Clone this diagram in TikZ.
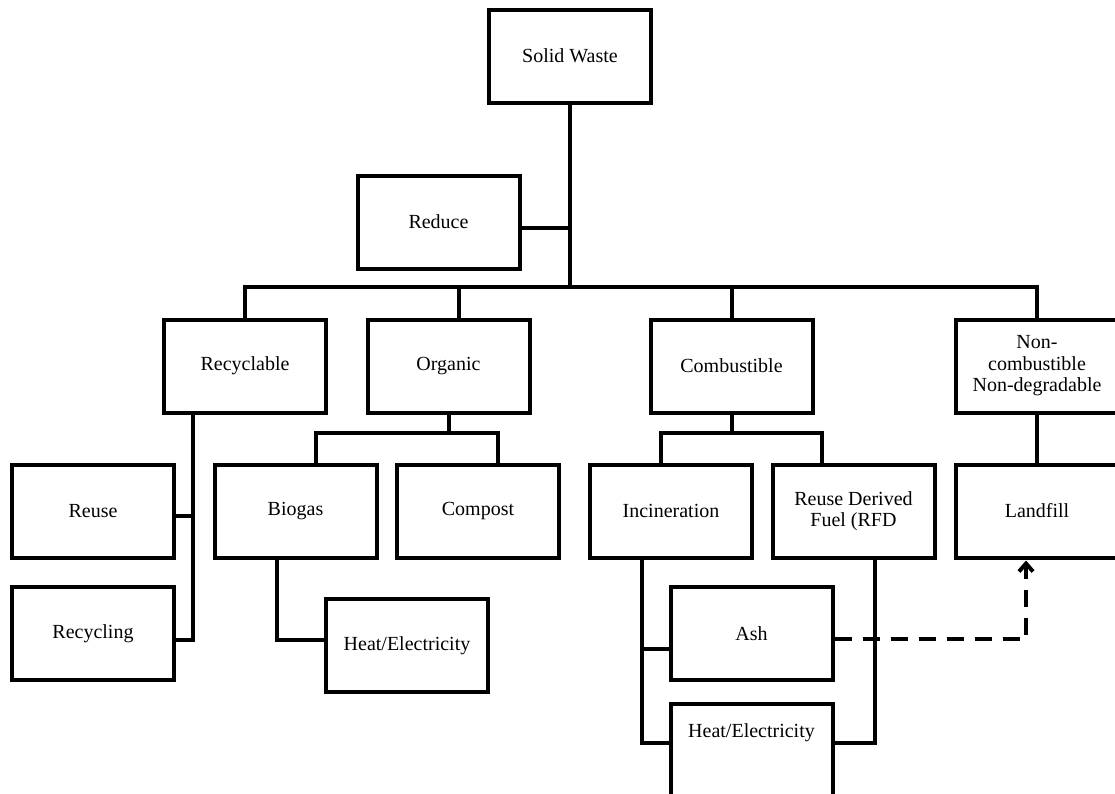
\documentclass[tikz,border=0pt]{standalone}
\usepackage{fontspec}
\setmainfont{Liberation Serif}
\usetikzlibrary{arrows.meta}
\begin{document}
\begin{tikzpicture}[x=1pt,y=-1pt,
  txt/.style={font=\fontsize{20}{21.5}\selectfont},
  box/.style={txt, draw, line width=4pt, fill=white, minimum width=162pt, minimum height=93pt, inner sep=2pt, align=center},
  conn/.style={line width=4pt},
  dashconn/.style={line width=4.5pt, dash pattern=on 17pt off 11pt}]
\useasboundingbox (0,0) rectangle (1115,793);
\clip (0,0) rectangle (1115,793);
\fill[white] (0,0) rectangle (1115,793);

% boxes
\node[box] (sw) at (570,56) {Solid Waste};
\node[box] (reduce) at (438.5,222) {Reduce};
\node[box] (recyc) at (245,366) {Recyclable};
\node[box] (organic) at (448.5,366) {Organic};
\node[box] (comb) at (731.5,366) {Combustible};
\node[box] (noncomb) at (1037,366) {Non-\\combustible\\Non-degradable};
\node[box] (reuse) at (93,511) {Reuse};
\node[box] (recycling) at (93,633.5) {Recycling};
\node[box] (biogas) at (295.5,511) {Biogas};
\node[box] (compost) at (478,511) {Compost};
\node[box] (he1) at (407,645.5) {Heat/Electricity};
\node[box] (incin) at (671,511) {Incineration};
\node[box] (rfd) at (853.5,511) {Reuse Derived\\Fuel (RFD};
\node[box] (landfill) at (1037,511) {Landfill};
\node[box] (ash) at (751.5,633.5) {Ash};
\node[box] (he2) at (751.5,750) {};
\node[txt] (he2t) at (751.5,733) {Heat/Electricity};

% helper coordinates
\coordinate (busM) at (570,287);
\coordinate (busR) at (1037,287);
\coordinate (orgx) at (459,287);
\coordinate (osub) at (448.5,433);
\coordinate (rdy) at (0,228);
\coordinate (rvx) at (193,412);
\coordinate (ry1) at (0,516);
\coordinate (ry2) at (0,640);
\coordinate (bgx) at (277,558);
\coordinate (ix) at (642,558);
\coordinate (rx) at (875,558);
\coordinate (ay) at (0,649);
\coordinate (hy) at (0,743);
\coordinate (dy) at (0,639);
\coordinate (lx) at (1026,0);

% top level
\draw[conn] (sw.south) -- (busM);
\draw[conn] (reduce.east |- rdy) -- (busM |- rdy);
\draw[conn, line join=miter] (recyc.north) |- (busR) -- (noncomb.north);
\draw[conn] (orgx) -- (orgx |- organic.north);
\draw[conn] (comb.north) -- (comb.north |- busR);

% organic branch
\draw[conn] (organic.south) -- (osub);
\draw[conn, line join=miter] ([xshift=20.5pt]biogas.north) |- ([xshift=20pt]compost.north |- osub) -- ([xshift=20pt]compost.north);

% combustible branch
\draw[conn] (comb.south) -- (comb.south |- osub);
\draw[conn, line join=miter] ([xshift=-10pt]incin.north) |- ([xshift=-31.5pt]rfd.north |- osub) -- ([xshift=-31.5pt]rfd.north);

% non-combustible
\draw[conn] (noncomb.south) -- (landfill.north);

% recyclable branch
\draw[conn, line join=miter] (rvx) -- (rvx |- ry2) -- (recycling.east |- ry2);
\draw[conn] (reuse.east |- ry1) -- (rvx |- ry1);

% biogas
\draw[conn, line join=miter] (bgx) |- (he1.west |- ry2);

% incineration / RFD
\draw[conn, line join=miter] (ix) -- (ix |- hy) -- (he2.west |- hy);
\draw[conn] (ix |- ay) -- (ash.west |- ay);
\draw[conn, line join=miter] (rx) -- (rx |- hy) -- (he2.east |- hy);

% ash to landfill
\draw[dashconn, -{Straight Barb[length=8pt,width=14pt,line width=4pt]}, shorten >=1pt] (ash.east |- dy) -| (lx |- landfill.south);
\end{tikzpicture}
\end{document}
